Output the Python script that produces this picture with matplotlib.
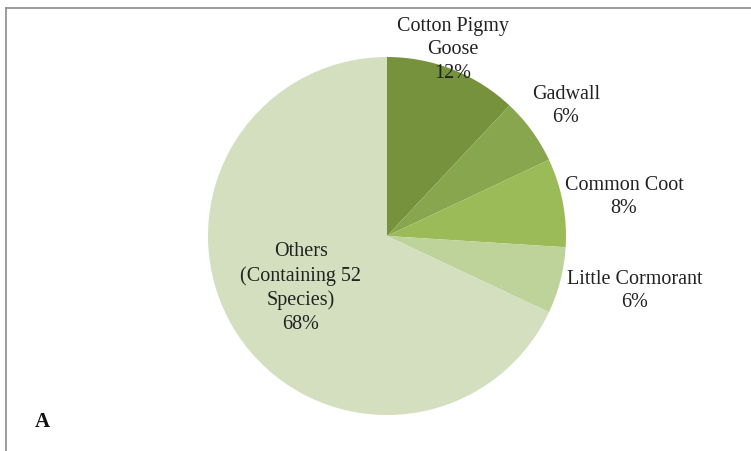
import matplotlib.pyplot as plt
from matplotlib.lines import Line2D

# data
species = ["Cotton Pigmy\nGoose", "Gadwall", "Common Coot", "Little Cormorant",
           "Others\n(Containing 52\nSpecies)"]
percent = [12, 6, 8, 6, 68]
colors = ["#76923c", "#88a64e", "#9bbb59", "#bed39a", "#d3dfbf"]

# label centres in pixels (x, y from top)
label_pos = [(453, 50), (566, 106), (624, 197), (635, 291), (301, 288)]

W, H = 751, 452
fig = plt.figure(figsize=(W / 100, H / 100), dpi=100)
ax = fig.add_axes([0, 0, 1, 1])

cx, cy, r = 387, H - 237, 179
ax.pie(percent, colors=colors, startangle=90, counterclock=False,
       center=(cx, cy), radius=r, frame=True,
       wedgeprops=dict(linewidth=0))
ax.set_xlim(0, W)
ax.set_ylim(0, H)
ax.set_aspect("equal")
ax.axis("off")

for name, p, (x, y) in zip(species, percent, label_pos):
    ax.text(x, H - y, f"{name}\n{p}%", ha="center", va="center",
            fontsize=14.5, family="Liberation Serif", color="#222222",
            linespacing=1.32)

ax.text(42, H - 422, "A", ha="center", va="center", fontsize=15,
        fontweight="bold", family="Liberation Serif", color="#111111")

# chart frame (only top and left edges visible)
fig.add_artist(Line2D([6 / W, 1], [1 - 9 / H, 1 - 9 / H], color="#8c8c8c", lw=1.2))
fig.add_artist(Line2D([6 / W, 6 / W], [0, 1 - 9 / H], color="#8c8c8c", lw=1.2))

fig.savefig("out.png", dpi=100)
